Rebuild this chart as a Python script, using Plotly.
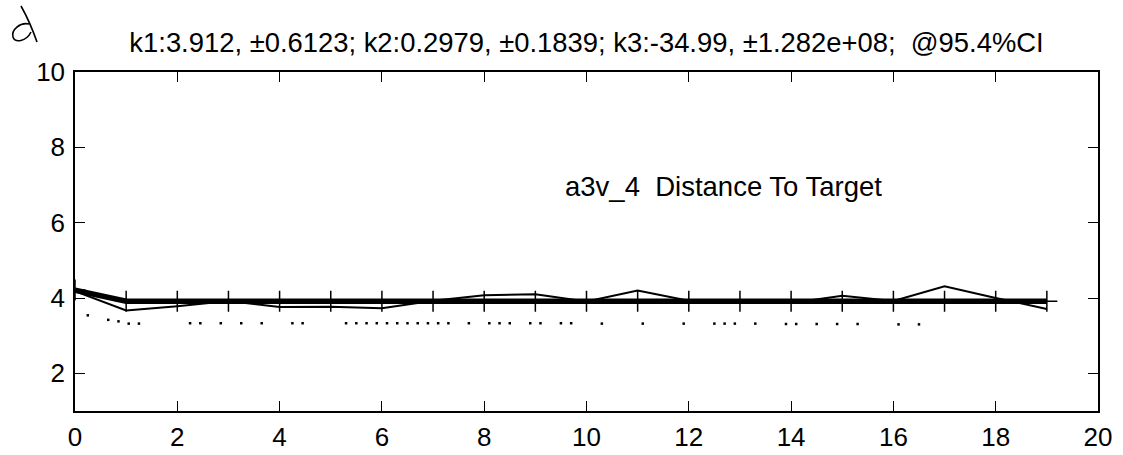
import plotly.graph_objects as go

# Sample index (one sample per step)
steps = list(range(20))

# Measured distance to target at each step
observed = [4.18, 3.67, 3.78, 3.92, 3.76, 3.77, 3.73, 3.93, 4.07, 4.10,
            3.91, 4.20, 3.93, 3.92, 3.87, 4.06, 3.92, 4.31, 4.00, 3.71]

# Fitted curve k1 + k2*exp(k3*t) evaluated at each step
fitted = [4.21, 3.912, 3.912, 3.912, 3.912, 3.912, 3.912, 3.912, 3.912, 3.912,
          3.912, 3.912, 3.912, 3.912, 3.912, 3.912, 3.912, 3.912, 3.912, 3.912]

# Sparse dotted trace below the curves
dot_t = [0.25, 0.65, 0.85, 1.05, 1.25, 2.25, 2.45, 2.85, 3.25, 3.65, 4.25, 4.45,
         5.3, 5.5, 5.7, 5.9, 6.1, 6.3, 6.5, 6.7, 6.9, 7.1, 7.3, 7.7, 8.1, 8.3,
         8.5, 8.9, 9.1, 9.5, 9.7, 10.3, 11.1, 11.9, 12.5, 12.7, 12.9, 13.3,
         13.9, 14.1, 14.5, 14.9, 15.3, 16.1, 16.5]
dot_v = [3.54, 3.42, 3.38, 3.32, 3.32, 3.33, 3.33, 3.33, 3.33, 3.33, 3.33, 3.33,
         3.33, 3.33, 3.33, 3.33, 3.33, 3.33, 3.33, 3.33, 3.33, 3.33, 3.33, 3.33,
         3.33, 3.33, 3.33, 3.33, 3.33, 3.33, 3.33, 3.32, 3.32, 3.32, 3.32, 3.32,
         3.32, 3.32, 3.31, 3.31, 3.31, 3.31, 3.31, 3.30, 3.30]

x_ticks = [0, 2, 4, 6, 8, 10, 12, 14, 16, 18, 20]
y_ticks = [2, 4, 6, 8, 10]

title_text = ("k1:3.912, \u00b10.6123; k2:0.2979, \u00b10.1839; "
              "k3:-34.99, \u00b11.282e+08;  @95.4%CI")
label_text = "a3v_4  Distance To Target"

FONT = "Liberation Sans, Arial, Helvetica, sans-serif"
W, H = 1123, 455
L, R, T, B = 75, 25, 72, 44

fig = go.Figure()

fig.add_trace(go.Scatter(
    x=dot_t, y=dot_v, mode="markers",
    marker=dict(symbol="square", size=2.5, color="black", line=dict(width=0)),
    hoverinfo="skip", showlegend=False))

fig.add_trace(go.Scatter(
    x=steps, y=observed, mode="lines",
    line=dict(color="black", width=2),
    showlegend=False))

fig.add_trace(go.Scatter(
    x=steps, y=fitted, mode="lines+markers",
    line=dict(color="black", width=5.5),
    marker=dict(symbol="cross-thin", size=15, color="black",
                line=dict(color="black", width=1.5)),
    showlegend=False))

fig.add_annotation(
    x=9.54, y=6.95, xref="x", yref="y", text=label_text, showarrow=False,
    xanchor="left", yanchor="middle",
    font=dict(family=FONT, size=27.5, color="black"))


def to_paper(px, py):
    return (px - L) / (W - L - R), (H - B - py) / (H - T - B)


# Handwritten margin mark at the top-left corner
pts = {k: to_paper(*v) for k, v in {
    "s0": (21, 6), "s1": (30, 22), "s2": (37, 42),
    "l0": (29, 24), "l1": (20, 22), "l2": (11, 30), "l3": (13, 37),
    "l4": (15, 43), "l5": (26, 42), "l6": (31, 32)}.items()}


def p(k):
    return f"{pts[k][0]:.5f},{pts[k][1]:.5f}"


path = (f"M {p('s0')} Q {p('s1')} {p('s2')} "
        f"M {p('l0')} C {p('l1')} {p('l2')} {p('l3')} "
        f"C {p('l4')} {p('l5')} {p('l6')}")
fig.add_shape(type="path", path=path, xref="paper", yref="paper",
              line=dict(color="black", width=1.6))

axis_common = dict(
    showgrid=False, zeroline=False, showline=True, linecolor="black",
    linewidth=1.5, mirror="ticks", ticks="inside", tickcolor="black",
    tickwidth=1.3, ticklen=10, automargin=False,
    tickfont=dict(family=FONT, size=26, color="black"))

fig.update_xaxes(range=[0, 20], tickvals=x_ticks,
                 ticktext=[str(v) for v in x_ticks],
                 ticklabelstandoff=2, **axis_common)
fig.update_yaxes(range=[1, 10], tickvals=y_ticks,
                 ticktext=[str(v) for v in y_ticks],
                 ticklabelstandoff=3, **axis_common)

fig.update_layout(
    width=W, height=H,
    margin=dict(l=L, r=R, t=T, b=B, autoexpand=False),
    paper_bgcolor="white", plot_bgcolor="white",
    title=dict(text=title_text, x=0.5, xref="paper", xanchor="center",
               y=1 - 42 / H, yref="container", yanchor="middle",
               font=dict(family=FONT, size=27.4, color="black")),
    showlegend=False)

fig.write_html("out.html")
